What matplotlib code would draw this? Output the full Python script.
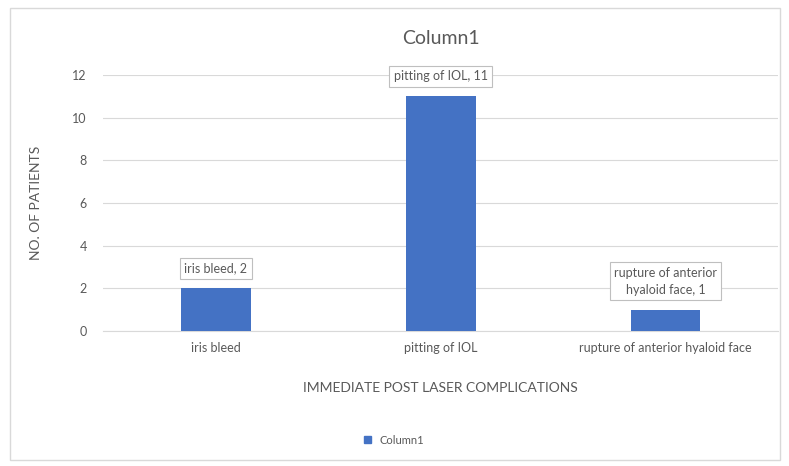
import matplotlib.pyplot as plt
from matplotlib.patches import Rectangle

categories = ['iris bleed', 'pitting of IOL', 'rupture of anterior hyaloid face']
patients = [2, 11, 1]
labels = ['iris bleed, 2', 'pitting of IOL, 11', 'rupture of anterior\nhyaloid face, 1']

plt.rcParams['font.family'] = ['Lato', 'DejaVu Sans']
gray = '#595959'

fig = plt.figure(figsize=(7.89, 4.66), dpi=100)
fig.patches.append(Rectangle((10 / 789, 6 / 466), 770 / 789, 452 / 466, transform=fig.transFigure,
                             fill=False, edgecolor='#d9d9d9', linewidth=1))
ax = fig.add_axes([0.131, 0.290, 0.855, 0.549])

x = range(len(categories))
ax.bar(x, patients, width=0.31, color='#4472c4', zorder=3)
ax.set_ylim(0, 12)
ax.set_xlim(-0.5, 2.5)
ax.set_yticks(range(0, 13, 2))
ax.set_xticks(list(x))
ax.set_xticklabels(categories, fontsize=9, color=gray)
ax.tick_params(axis='y', labelsize=9, colors=gray, length=0, pad=12)
ax.tick_params(axis='x', length=0, pad=8)
ax.yaxis.grid(True, color='#d9d9d9', linewidth=0.8, zorder=0)
for s in ax.spines.values():
    s.set_visible(False)
ax.spines['bottom'].set_visible(True)
ax.spines['bottom'].set_color('#d9d9d9')

for i, (v, lab) in enumerate(zip(patients, labels)):
    ax.annotate(lab, (i, v), xytext=(0, 10), textcoords='offset points', ha='center', va='bottom',
                fontsize=9, color=gray, linespacing=1.5,
                bbox=dict(boxstyle='square,pad=0.35', facecolor='white', edgecolor='#bfbfbf', linewidth=0.8),
                zorder=4)

ax.set_ylabel('NO. OF PATIENTS', fontsize=10, color=gray, labelpad=22)
ax.set_xlabel('IMMEDIATE POST LASER COMPLICATIONS', fontsize=10, color=gray, labelpad=20)
ax.set_title('Column1', fontsize=14, color=gray, pad=22)

fig.legend(handles=[Rectangle((0, 0), 1, 1, color='#4472c4')], labels=['Column1'],
           loc='center', bbox_to_anchor=(0.5, 0.055), frameon=False, fontsize=8,
           handlelength=0.6, handleheight=0.6, labelcolor=gray)

fig.savefig('out.png', dpi=100)
